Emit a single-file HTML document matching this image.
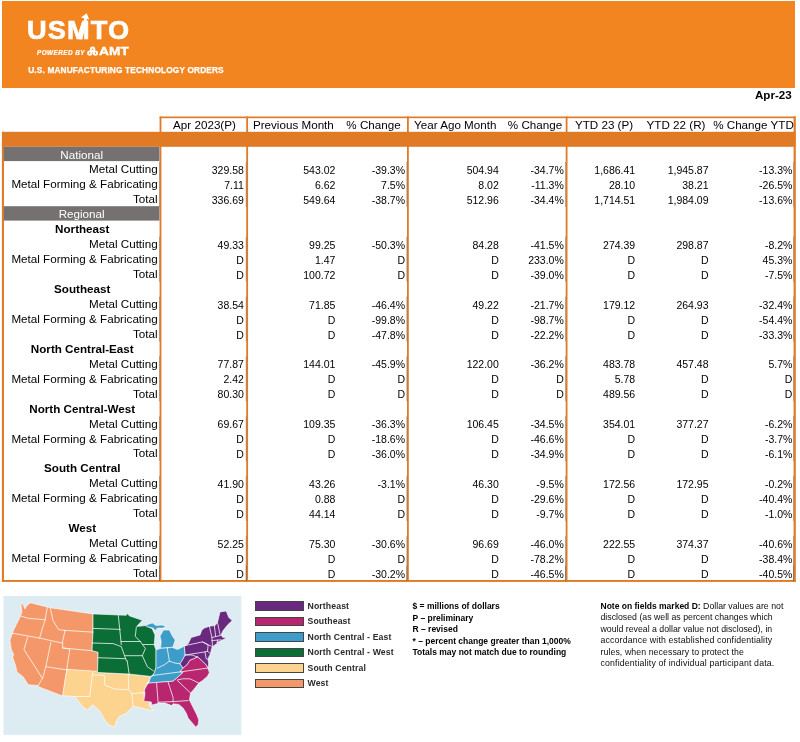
<!DOCTYPE html>
<html lang="en"><head><meta charset="utf-8"><title>USMTO Apr-23</title>
<style>
html,body{margin:0;padding:0;background:#fff}
body{width:800px;height:742px;position:relative;overflow:hidden;font-family:"Liberation Sans",sans-serif;color:#000}
.a{position:absolute}
.banner{left:2px;top:1px;width:793px;height:86.5px;background:#F28520}
.ln{background:#E17A24}
.band{left:2px;top:131.8px;width:793.5px;height:15px;background:#E17A24}
.gray{left:3.75px;width:155.8px;height:14.2px;color:#fff;text-align:center}/*#757171*/
.t{font-size:11.65px;line-height:14.9px;height:14.9px;white-space:nowrap}
.lab{left:3.75px;width:153.9px;text-align:right}
.reg{left:3.75px;width:157px;text-align:center;font-weight:bold;font-size:11.65px}
.hd{text-align:center;width:120px;top:117.6px}
.n{font-size:10.5px;text-align:right;width:80px}
.lg{color:#fff;font-weight:bold;white-space:nowrap}
.leg{font-size:8.7px;letter-spacing:0.12px;font-weight:bold;color:#2a2a2a;left:307.5px;line-height:10px;white-space:nowrap}
.sw{left:254.6px;width:49px;height:9.6px;border:0.7px solid #444;box-sizing:border-box}
.note{font-size:8.5px;font-weight:bold;line-height:11.55px;white-space:nowrap;color:#000}
.note2{font-size:8.75px;line-height:11.55px;white-space:nowrap;color:#0c0c0c}

</style></head><body>
<div class="a banner"></div>
<div class="a lg" style="left:27.2px;top:15.3px;font-size:25.2px;line-height:30px;letter-spacing:1px;-webkit-text-stroke:0.6px #fff;transform:scaleX(1.08);transform-origin:0 0">USMTO</div>
<div class="a lg" style="left:37px;top:47.5px;font-size:6.4px;line-height:9px;font-style:italic;letter-spacing:0.42px;-webkit-text-stroke:0.2px #fff">POWERED BY</div>
<div class="a lg" style="left:99.2px;top:44.3px;font-size:11.5px;line-height:14px;letter-spacing:0px;-webkit-text-stroke:0.35px #fff;transform:scaleX(1.2);transform-origin:0 0">AMT</div>
<div class="a lg" style="left:28.2px;top:64.7px;font-size:8.3px;line-height:10px;letter-spacing:0.15px;-webkit-text-stroke:0.25px #fff">U.S. MANUFACTURING TECHNOLOGY ORDERS</div>
<svg class="a" style="left:0;top:0" width="260" height="88" viewBox="0 0 260 88" fill="#fff">
<path d="M79.6 39.5 L84.3 18.4 L81 17.6 L86.6 13.3 L89.3 19.4 L86.9 18.9 L82.4 39.5 Z"/>
<g><circle cx="92.6" cy="49.3" r="2.7"/><circle cx="89.8" cy="53.1" r="2.7"/><circle cx="95.4" cy="53.1" r="2.7"/></g>
<g fill="#F28520"><circle cx="92.6" cy="49.3" r="0.8"/><circle cx="89.8" cy="53.1" r="0.8"/><circle cx="95.4" cy="53.1" r="0.8"/></g>
</svg>
<div class="a" style="right:8.3px;top:88.4px;font-size:11.6px;font-weight:bold;line-height:13px">Apr-23</div>
<svg class="a" style="left:0;top:0" width="800" height="742" viewBox="0 0 800 742">
<rect x="2" y="131.8" width="793.5" height="15" fill="#E17A24"/>
<rect x="159.6" y="116.5" width="635.9" height="1.7" fill="#E17A24"/>
<rect x="1.9" y="131.8" width="2.05" height="450.1" fill="#E17A24"/>
<rect x="1.9" y="580" width="793.9" height="1.9" fill="#E17A24"/>
<rect x="159.6" y="116.5" width="1.8" height="465.4" fill="#E17A24"/>
<rect x="246.25" y="116.5" width="1.8" height="465.4" fill="#E17A24"/>
<rect x="407" y="116.5" width="1.8" height="465.4" fill="#E17A24"/>
<rect x="565.7" y="116.5" width="1.8" height="465.4" fill="#E17A24"/>
<rect x="793.6" y="116.5" width="2.2" height="465.4" fill="#E17A24"/>
<rect x="3.75" y="146.80" width="155.7" height="14.30" fill="#757171"/>
<rect x="3.75" y="206.20" width="155.7" height="14.40" fill="#757171"/>
<rect x="159.1" y="161.95" width="0.6" height="44.86" fill="#3a2a1a" fill-opacity="0.5"/>
<rect x="245.8" y="161.95" width="0.6" height="44.86" fill="#3a2a1a" fill-opacity="0.5"/>
<rect x="406.5" y="161.95" width="0.6" height="44.86" fill="#3a2a1a" fill-opacity="0.5"/>
<rect x="565.2" y="161.95" width="0.6" height="44.86" fill="#3a2a1a" fill-opacity="0.5"/>
<rect x="793.1" y="161.95" width="0.6" height="44.86" fill="#3a2a1a" fill-opacity="0.5"/>
<rect x="159.1" y="236.72" width="0.6" height="44.86" fill="#3a2a1a" fill-opacity="0.5"/>
<rect x="245.8" y="236.72" width="0.6" height="44.86" fill="#3a2a1a" fill-opacity="0.5"/>
<rect x="406.5" y="236.72" width="0.6" height="44.86" fill="#3a2a1a" fill-opacity="0.5"/>
<rect x="565.2" y="236.72" width="0.6" height="44.86" fill="#3a2a1a" fill-opacity="0.5"/>
<rect x="793.1" y="236.72" width="0.6" height="44.86" fill="#3a2a1a" fill-opacity="0.5"/>
<rect x="159.1" y="296.54" width="0.6" height="44.86" fill="#3a2a1a" fill-opacity="0.5"/>
<rect x="245.8" y="296.54" width="0.6" height="44.86" fill="#3a2a1a" fill-opacity="0.5"/>
<rect x="406.5" y="296.54" width="0.6" height="44.86" fill="#3a2a1a" fill-opacity="0.5"/>
<rect x="565.2" y="296.54" width="0.6" height="44.86" fill="#3a2a1a" fill-opacity="0.5"/>
<rect x="793.1" y="296.54" width="0.6" height="44.86" fill="#3a2a1a" fill-opacity="0.5"/>
<rect x="159.1" y="356.36" width="0.6" height="44.86" fill="#3a2a1a" fill-opacity="0.5"/>
<rect x="245.8" y="356.36" width="0.6" height="44.86" fill="#3a2a1a" fill-opacity="0.5"/>
<rect x="406.5" y="356.36" width="0.6" height="44.86" fill="#3a2a1a" fill-opacity="0.5"/>
<rect x="565.2" y="356.36" width="0.6" height="44.86" fill="#3a2a1a" fill-opacity="0.5"/>
<rect x="793.1" y="356.36" width="0.6" height="44.86" fill="#3a2a1a" fill-opacity="0.5"/>
<rect x="159.1" y="416.17" width="0.6" height="44.86" fill="#3a2a1a" fill-opacity="0.5"/>
<rect x="245.8" y="416.17" width="0.6" height="44.86" fill="#3a2a1a" fill-opacity="0.5"/>
<rect x="406.5" y="416.17" width="0.6" height="44.86" fill="#3a2a1a" fill-opacity="0.5"/>
<rect x="565.2" y="416.17" width="0.6" height="44.86" fill="#3a2a1a" fill-opacity="0.5"/>
<rect x="793.1" y="416.17" width="0.6" height="44.86" fill="#3a2a1a" fill-opacity="0.5"/>
<rect x="159.1" y="475.99" width="0.6" height="44.86" fill="#3a2a1a" fill-opacity="0.5"/>
<rect x="245.8" y="475.99" width="0.6" height="44.86" fill="#3a2a1a" fill-opacity="0.5"/>
<rect x="406.5" y="475.99" width="0.6" height="44.86" fill="#3a2a1a" fill-opacity="0.5"/>
<rect x="565.2" y="475.99" width="0.6" height="44.86" fill="#3a2a1a" fill-opacity="0.5"/>
<rect x="793.1" y="475.99" width="0.6" height="44.86" fill="#3a2a1a" fill-opacity="0.5"/>
<rect x="159.1" y="535.80" width="0.6" height="44.86" fill="#3a2a1a" fill-opacity="0.5"/>
<rect x="245.8" y="535.80" width="0.6" height="44.86" fill="#3a2a1a" fill-opacity="0.5"/>
<rect x="406.5" y="535.80" width="0.6" height="44.86" fill="#3a2a1a" fill-opacity="0.5"/>
<rect x="565.2" y="535.80" width="0.6" height="44.86" fill="#3a2a1a" fill-opacity="0.5"/>
<rect x="793.1" y="535.80" width="0.6" height="44.86" fill="#3a2a1a" fill-opacity="0.5"/>
<rect x="159.1" y="565.71" width="0.6" height="14.95" fill="#3a2a1a" fill-opacity="0.5"/>
<rect x="245.8" y="565.71" width="0.6" height="14.95" fill="#3a2a1a" fill-opacity="0.5"/>
<rect x="406.5" y="565.71" width="0.6" height="14.95" fill="#3a2a1a" fill-opacity="0.5"/>
<rect x="565.2" y="565.71" width="0.6" height="14.95" fill="#3a2a1a" fill-opacity="0.5"/>
<rect x="793.1" y="565.71" width="0.6" height="14.95" fill="#3a2a1a" fill-opacity="0.5"/>
</svg>
<div class="a t hd" style="left:144.50px">Apr 2023(P)</div>
<div class="a t hd" style="left:233.40px">Previous Month</div>
<div class="a t hd" style="left:313.50px">% Change</div>
<div class="a t hd" style="left:395.25px">Year Ago Month</div>
<div class="a t hd" style="left:475.00px">% Change</div>
<div class="a t hd" style="left:544.00px">YTD 23 (P)</div>
<div class="a t hd" style="left:616.00px">YTD 22 (R)</div>
<div class="a t hd" style="left:693.50px">% Change YTD</div>
<div class="a gray t" style="top:148.10px">National</div>
<div class="a t lab" style="top:162.35px">Metal Cutting</div>
<div class="a t n" style="top:163.05px;left:163.90px">329.58</div>
<div class="a t n" style="top:163.05px;left:255.40px">543.02</div>
<div class="a t n" style="top:163.05px;left:325.00px">-39.3%</div>
<div class="a t n" style="top:163.05px;left:418.80px">504.94</div>
<div class="a t n" style="top:163.05px;left:483.80px">-34.7%</div>
<div class="a t n" style="top:163.05px;left:555.20px">1,686.41</div>
<div class="a t n" style="top:163.05px;left:628.50px">1,945.87</div>
<div class="a t n" style="top:163.05px;left:712.40px">-13.3%</div>
<div class="a t lab" style="top:177.31px">Metal Forming &amp; Fabricating</div>
<div class="a t n" style="top:178.01px;left:163.90px">7.11</div>
<div class="a t n" style="top:178.01px;left:255.40px">6.62</div>
<div class="a t n" style="top:178.01px;left:325.00px">7.5%</div>
<div class="a t n" style="top:178.01px;left:418.80px">8.02</div>
<div class="a t n" style="top:178.01px;left:483.80px">-11.3%</div>
<div class="a t n" style="top:178.01px;left:555.20px">28.10</div>
<div class="a t n" style="top:178.01px;left:628.50px">38.21</div>
<div class="a t n" style="top:178.01px;left:712.40px">-26.5%</div>
<div class="a t lab" style="top:192.26px">Total</div>
<div class="a t n" style="top:192.96px;left:163.90px">336.69</div>
<div class="a t n" style="top:192.96px;left:255.40px">549.64</div>
<div class="a t n" style="top:192.96px;left:325.00px">-38.7%</div>
<div class="a t n" style="top:192.96px;left:418.80px">512.96</div>
<div class="a t n" style="top:192.96px;left:483.80px">-34.4%</div>
<div class="a t n" style="top:192.96px;left:555.20px">1,714.51</div>
<div class="a t n" style="top:192.96px;left:628.50px">1,984.09</div>
<div class="a t n" style="top:192.96px;left:712.40px">-13.6%</div>
<div class="a gray t" style="top:207.10px">Regional</div>
<div class="a t reg" style="top:222.17px">Northeast</div>
<div class="a t lab" style="top:237.12px">Metal Cutting</div>
<div class="a t n" style="top:237.82px;left:163.90px">49.33</div>
<div class="a t n" style="top:237.82px;left:255.40px">99.25</div>
<div class="a t n" style="top:237.82px;left:325.00px">-50.3%</div>
<div class="a t n" style="top:237.82px;left:418.80px">84.28</div>
<div class="a t n" style="top:237.82px;left:483.80px">-41.5%</div>
<div class="a t n" style="top:237.82px;left:555.20px">274.39</div>
<div class="a t n" style="top:237.82px;left:628.50px">298.87</div>
<div class="a t n" style="top:237.82px;left:712.40px">-8.2%</div>
<div class="a t lab" style="top:252.08px">Metal Forming &amp; Fabricating</div>
<div class="a t n" style="top:252.78px;left:163.90px">D</div>
<div class="a t n" style="top:252.78px;left:255.40px">1.47</div>
<div class="a t n" style="top:252.78px;left:325.00px">D</div>
<div class="a t n" style="top:252.78px;left:418.80px">D</div>
<div class="a t n" style="top:252.78px;left:483.80px">233.0%</div>
<div class="a t n" style="top:252.78px;left:555.20px">D</div>
<div class="a t n" style="top:252.78px;left:628.50px">D</div>
<div class="a t n" style="top:252.78px;left:712.40px">45.3%</div>
<div class="a t lab" style="top:267.03px">Total</div>
<div class="a t n" style="top:267.73px;left:163.90px">D</div>
<div class="a t n" style="top:267.73px;left:255.40px">100.72</div>
<div class="a t n" style="top:267.73px;left:325.00px">D</div>
<div class="a t n" style="top:267.73px;left:418.80px">D</div>
<div class="a t n" style="top:267.73px;left:483.80px">-39.0%</div>
<div class="a t n" style="top:267.73px;left:555.20px">D</div>
<div class="a t n" style="top:267.73px;left:628.50px">D</div>
<div class="a t n" style="top:267.73px;left:712.40px">-7.5%</div>
<div class="a t reg" style="top:281.99px">Southeast</div>
<div class="a t lab" style="top:296.94px">Metal Cutting</div>
<div class="a t n" style="top:297.64px;left:163.90px">38.54</div>
<div class="a t n" style="top:297.64px;left:255.40px">71.85</div>
<div class="a t n" style="top:297.64px;left:325.00px">-46.4%</div>
<div class="a t n" style="top:297.64px;left:418.80px">49.22</div>
<div class="a t n" style="top:297.64px;left:483.80px">-21.7%</div>
<div class="a t n" style="top:297.64px;left:555.20px">179.12</div>
<div class="a t n" style="top:297.64px;left:628.50px">264.93</div>
<div class="a t n" style="top:297.64px;left:712.40px">-32.4%</div>
<div class="a t lab" style="top:311.89px">Metal Forming &amp; Fabricating</div>
<div class="a t n" style="top:312.59px;left:163.90px">D</div>
<div class="a t n" style="top:312.59px;left:255.40px">D</div>
<div class="a t n" style="top:312.59px;left:325.00px">-99.8%</div>
<div class="a t n" style="top:312.59px;left:418.80px">D</div>
<div class="a t n" style="top:312.59px;left:483.80px">-98.7%</div>
<div class="a t n" style="top:312.59px;left:555.20px">D</div>
<div class="a t n" style="top:312.59px;left:628.50px">D</div>
<div class="a t n" style="top:312.59px;left:712.40px">-54.4%</div>
<div class="a t lab" style="top:326.85px">Total</div>
<div class="a t n" style="top:327.55px;left:163.90px">D</div>
<div class="a t n" style="top:327.55px;left:255.40px">D</div>
<div class="a t n" style="top:327.55px;left:325.00px">-47.8%</div>
<div class="a t n" style="top:327.55px;left:418.80px">D</div>
<div class="a t n" style="top:327.55px;left:483.80px">-22.2%</div>
<div class="a t n" style="top:327.55px;left:555.20px">D</div>
<div class="a t n" style="top:327.55px;left:628.50px">D</div>
<div class="a t n" style="top:327.55px;left:712.40px">-33.3%</div>
<div class="a t reg" style="top:341.80px">North Central-East</div>
<div class="a t lab" style="top:356.76px">Metal Cutting</div>
<div class="a t n" style="top:357.46px;left:163.90px">77.87</div>
<div class="a t n" style="top:357.46px;left:255.40px">144.01</div>
<div class="a t n" style="top:357.46px;left:325.00px">-45.9%</div>
<div class="a t n" style="top:357.46px;left:418.80px">122.00</div>
<div class="a t n" style="top:357.46px;left:483.80px">-36.2%</div>
<div class="a t n" style="top:357.46px;left:555.20px">483.78</div>
<div class="a t n" style="top:357.46px;left:628.50px">457.48</div>
<div class="a t n" style="top:357.46px;left:712.40px">5.7%</div>
<div class="a t lab" style="top:371.71px">Metal Forming &amp; Fabricating</div>
<div class="a t n" style="top:372.41px;left:163.90px">2.42</div>
<div class="a t n" style="top:372.41px;left:255.40px">D</div>
<div class="a t n" style="top:372.41px;left:325.00px">D</div>
<div class="a t n" style="top:372.41px;left:418.80px">D</div>
<div class="a t n" style="top:372.41px;left:483.80px">D</div>
<div class="a t n" style="top:372.41px;left:555.20px">5.78</div>
<div class="a t n" style="top:372.41px;left:628.50px">D</div>
<div class="a t n" style="top:372.41px;left:712.40px">D</div>
<div class="a t lab" style="top:386.66px">Total</div>
<div class="a t n" style="top:387.36px;left:163.90px">80.30</div>
<div class="a t n" style="top:387.36px;left:255.40px">D</div>
<div class="a t n" style="top:387.36px;left:325.00px">D</div>
<div class="a t n" style="top:387.36px;left:418.80px">D</div>
<div class="a t n" style="top:387.36px;left:483.80px">D</div>
<div class="a t n" style="top:387.36px;left:555.20px">489.56</div>
<div class="a t n" style="top:387.36px;left:628.50px">D</div>
<div class="a t n" style="top:387.36px;left:712.40px">D</div>
<div class="a t reg" style="top:401.62px">North Central-West</div>
<div class="a t lab" style="top:416.57px">Metal Cutting</div>
<div class="a t n" style="top:417.27px;left:163.90px">69.67</div>
<div class="a t n" style="top:417.27px;left:255.40px">109.35</div>
<div class="a t n" style="top:417.27px;left:325.00px">-36.3%</div>
<div class="a t n" style="top:417.27px;left:418.80px">106.45</div>
<div class="a t n" style="top:417.27px;left:483.80px">-34.5%</div>
<div class="a t n" style="top:417.27px;left:555.20px">354.01</div>
<div class="a t n" style="top:417.27px;left:628.50px">377.27</div>
<div class="a t n" style="top:417.27px;left:712.40px">-6.2%</div>
<div class="a t lab" style="top:431.53px">Metal Forming &amp; Fabricating</div>
<div class="a t n" style="top:432.23px;left:163.90px">D</div>
<div class="a t n" style="top:432.23px;left:255.40px">D</div>
<div class="a t n" style="top:432.23px;left:325.00px">-18.6%</div>
<div class="a t n" style="top:432.23px;left:418.80px">D</div>
<div class="a t n" style="top:432.23px;left:483.80px">-46.6%</div>
<div class="a t n" style="top:432.23px;left:555.20px">D</div>
<div class="a t n" style="top:432.23px;left:628.50px">D</div>
<div class="a t n" style="top:432.23px;left:712.40px">-3.7%</div>
<div class="a t lab" style="top:446.48px">Total</div>
<div class="a t n" style="top:447.18px;left:163.90px">D</div>
<div class="a t n" style="top:447.18px;left:255.40px">D</div>
<div class="a t n" style="top:447.18px;left:325.00px">-36.0%</div>
<div class="a t n" style="top:447.18px;left:418.80px">D</div>
<div class="a t n" style="top:447.18px;left:483.80px">-34.9%</div>
<div class="a t n" style="top:447.18px;left:555.20px">D</div>
<div class="a t n" style="top:447.18px;left:628.50px">D</div>
<div class="a t n" style="top:447.18px;left:712.40px">-6.1%</div>
<div class="a t reg" style="top:461.43px">South Central</div>
<div class="a t lab" style="top:476.39px">Metal Cutting</div>
<div class="a t n" style="top:477.09px;left:163.90px">41.90</div>
<div class="a t n" style="top:477.09px;left:255.40px">43.26</div>
<div class="a t n" style="top:477.09px;left:325.00px">-3.1%</div>
<div class="a t n" style="top:477.09px;left:418.80px">46.30</div>
<div class="a t n" style="top:477.09px;left:483.80px">-9.5%</div>
<div class="a t n" style="top:477.09px;left:555.20px">172.56</div>
<div class="a t n" style="top:477.09px;left:628.50px">172.95</div>
<div class="a t n" style="top:477.09px;left:712.40px">-0.2%</div>
<div class="a t lab" style="top:491.34px">Metal Forming &amp; Fabricating</div>
<div class="a t n" style="top:492.04px;left:163.90px">D</div>
<div class="a t n" style="top:492.04px;left:255.40px">0.88</div>
<div class="a t n" style="top:492.04px;left:325.00px">D</div>
<div class="a t n" style="top:492.04px;left:418.80px">D</div>
<div class="a t n" style="top:492.04px;left:483.80px">-29.6%</div>
<div class="a t n" style="top:492.04px;left:555.20px">D</div>
<div class="a t n" style="top:492.04px;left:628.50px">D</div>
<div class="a t n" style="top:492.04px;left:712.40px">-40.4%</div>
<div class="a t lab" style="top:506.30px">Total</div>
<div class="a t n" style="top:507.00px;left:163.90px">D</div>
<div class="a t n" style="top:507.00px;left:255.40px">44.14</div>
<div class="a t n" style="top:507.00px;left:325.00px">D</div>
<div class="a t n" style="top:507.00px;left:418.80px">D</div>
<div class="a t n" style="top:507.00px;left:483.80px">-9.7%</div>
<div class="a t n" style="top:507.00px;left:555.20px">D</div>
<div class="a t n" style="top:507.00px;left:628.50px">D</div>
<div class="a t n" style="top:507.00px;left:712.40px">-1.0%</div>
<div class="a t reg" style="top:521.25px">West</div>
<div class="a t lab" style="top:536.20px">Metal Cutting</div>
<div class="a t n" style="top:536.90px;left:163.90px">52.25</div>
<div class="a t n" style="top:536.90px;left:255.40px">75.30</div>
<div class="a t n" style="top:536.90px;left:325.00px">-30.6%</div>
<div class="a t n" style="top:536.90px;left:418.80px">96.69</div>
<div class="a t n" style="top:536.90px;left:483.80px">-46.0%</div>
<div class="a t n" style="top:536.90px;left:555.20px">222.55</div>
<div class="a t n" style="top:536.90px;left:628.50px">374.37</div>
<div class="a t n" style="top:536.90px;left:712.40px">-40.6%</div>
<div class="a t lab" style="top:551.16px">Metal Forming &amp; Fabricating</div>
<div class="a t n" style="top:551.86px;left:163.90px">D</div>
<div class="a t n" style="top:551.86px;left:255.40px">D</div>
<div class="a t n" style="top:551.86px;left:325.00px">D</div>
<div class="a t n" style="top:551.86px;left:418.80px">D</div>
<div class="a t n" style="top:551.86px;left:483.80px">-78.2%</div>
<div class="a t n" style="top:551.86px;left:555.20px">D</div>
<div class="a t n" style="top:551.86px;left:628.50px">D</div>
<div class="a t n" style="top:551.86px;left:712.40px">-38.4%</div>
<div class="a t lab" style="top:566.11px">Total</div>
<div class="a t n" style="top:566.81px;left:163.90px">D</div>
<div class="a t n" style="top:566.81px;left:255.40px">D</div>
<div class="a t n" style="top:566.81px;left:325.00px">-30.2%</div>
<div class="a t n" style="top:566.81px;left:418.80px">D</div>
<div class="a t n" style="top:566.81px;left:483.80px">-46.5%</div>
<div class="a t n" style="top:566.81px;left:555.20px">D</div>
<div class="a t n" style="top:566.81px;left:628.50px">D</div>
<div class="a t n" style="top:566.81px;left:712.40px">-40.5%</div><svg class="a" style="left:0;top:590px" width="250" height="152" viewBox="0 590 250 152">
<rect x="3.5" y="596" width="237.8" height="138.8" fill="#DDEBF3"/>
<path d="M20.9 603.5 L23.3 604.6 L24.8 609.1 L27.2 605.2 L30.4 602.8 L47.4 607.0 L50.5 607.8 L93.0 613.9 L93.0 631.4 L92.0 650.7 L98.1 652.3 L97.5 671.9 L66.7 669.9 L62.7 696.1 L38.9 686.9 L38.2 685.5 L28.3 684.8 L23.3 677.0 L17.0 672.1 L15.6 665.7 L12.7 657.2 L13.7 654.4 L11.3 649.5 L9.9 640.3 L12.4 633.2 L13.4 630.4 L16.3 624.7 L19.8 617.6 L21.9 612.0 Z" fill="#F4986A" stroke="#fff" stroke-width="0.6" stroke-linejoin="round"/>
<path d="M67.2 669.2 L96.5 671.3 L98.0 672.5 L128.7 674.0 L149.0 676.2 L150.2 678.5 L147.5 682.2 L144.5 689.7 L143.7 692.7 L144.5 700.2 L149.7 701.7 L149.0 705.5 L153.5 710.7 L149.0 710.0 L140.0 707.7 L133.2 706.2 L126.5 713.0 L119.0 716.7 L116.0 722.0 L115.2 727.2 L109.2 725.0 L104.7 719.7 L100.2 711.5 L92.7 704.7 L87.5 710.0 L82.2 706.2 L76.2 698.0 L74.0 696.5 L62.7 695.7 L65.0 680.0 Z" fill="#FDD390" stroke="#fff" stroke-width="0.6" stroke-linejoin="round"/>
<path d="M93.0 613.9 L126.2 615.3 L127.2 613.6 L129.6 615.9 L142.3 620.3 L136.7 626.4 L145.6 625.6 L152.2 628.8 L155.0 635.0 L154.2 645.0 L156.0 650.0 L156.0 667.5 L154.5 672.5 L151.9 676.5 L149.0 676.2 L128.7 674.0 L98.0 672.5 L97.5 671.9 L98.1 652.3 L92.0 650.7 L93.0 631.4 Z" fill="#0B6E37" stroke="#fff" stroke-width="0.6" stroke-linejoin="round"/>
<path d="M156.0 650.0 L161.2 648.1 L172.5 647.5 L177.5 649.4 L184.4 646.2 L185.2 655.0 L182.5 660.0 L180.0 663.8 L183.1 668.1 L180.2 671.5 L183.1 672.5 L173.1 681.2 L148.8 683.1 L150.0 678.8 L151.9 675.6 L151.9 676.5 L154.5 672.5 L156.0 667.5 Z" fill="#3E9DC8" stroke="#fff" stroke-width="0.6" stroke-linejoin="round"/>
<path d="M145.6 625.6 L149.4 623.8 L152.5 623.1 L156.2 625.6 L161.2 625.0 L166.2 626.2 L163.1 628.1 L157.5 628.1 L155.0 630.6 L153.1 628.1 L147.5 626.9 Z" fill="#3E9DC8" stroke="#fff" stroke-width="0.6" stroke-linejoin="round"/>
<path d="M160.0 636.2 L163.5 630.0 L169.4 630.0 L172.5 636.2 L175.2 640.0 L174.0 643.8 L172.8 647.2 L160.6 648.1 L161.2 641.2 Z" fill="#3E9DC8" stroke="#fff" stroke-width="0.6" stroke-linejoin="round"/>
<path d="M220.0 611.9 L226.2 611.0 L228.8 617.5 L232.2 620.6 L227.5 625.0 L223.1 630.6 L221.2 634.4 L222.5 637.2 L226.5 638.1 L221.2 640.6 L216.2 643.1 L221.2 641.9 L215.0 644.8 L212.2 646.9 L211.2 650.0 L210.6 653.8 L208.8 656.9 L208.1 659.4 L208.6 663.8 L208.1 668.1 L206.2 665.0 L202.5 661.2 L197.5 656.9 L193.8 658.8 L190.0 660.2 L186.9 665.0 L183.1 668.1 L180.0 663.8 L182.5 660.0 L185.2 655.0 L184.4 646.2 L188.1 643.8 L190.0 640.0 L191.2 637.5 L200.0 635.0 L201.9 630.0 L204.4 628.1 L209.4 626.2 L215.0 625.6 L217.5 622.5 Z" fill="#69297F" stroke="#fff" stroke-width="0.6" stroke-linejoin="round"/>
<path d="M148.8 683.1 L173.1 681.2 L183.1 672.5 L180.2 671.5 L183.1 668.1 L186.9 665.0 L190.0 660.2 L193.8 658.8 L197.5 656.9 L202.5 661.2 L206.2 665.0 L207.8 668.1 L209.4 672.5 L207.5 676.2 L202.5 680.6 L198.8 683.1 L193.8 689.4 L190.6 693.1 L189.4 700.0 L192.5 706.2 L196.9 715.0 L198.8 720.0 L198.1 725.0 L195.6 726.9 L191.9 722.5 L188.1 718.1 L186.2 713.1 L183.1 708.1 L178.8 704.4 L173.1 703.8 L171.9 705.6 L165.0 703.1 L160.0 703.1 L158.8 702.5 L156.9 703.8 L151.9 705.0 L151.2 701.9 L143.8 701.2 L145.0 693.8 L144.4 690.0 L146.9 685.0 Z" fill="#B7266F" stroke="#fff" stroke-width="0.6" stroke-linejoin="round"/>
<g fill="none" stroke="#fff" stroke-width="0.75" stroke-linejoin="round" stroke-linecap="round">
<path d="M21.2 616.2 L28.3 618.3 L45.3 619.8"/>
<path d="M47.4 607.0 L45.0 620.5 L42.4 628.2 L39.6 638.1"/>
<path d="M12.4 633.2 L39.6 638.1 L62.2 643.1"/>
<path d="M27.6 637.4 L24.0 649.5 L42.4 678.5 L38.2 685.5"/>
<path d="M50.9 642.4 L46.0 665.7 L43.8 674.2 L42.4 678.5"/>
<path d="M50.2 607.7 L53.0 620.5 L58.7 629.7 L65.1 630.4 L62.2 643.1"/>
<path d="M62.7 643.0 L62.7 648.0 L69.8 649.0 L66.7 669.9"/>
<path d="M64.7 630.4 L93.0 632.1"/>
<path d="M62.7 648.0 L92.0 650.7"/>
<path d="M46.5 666.8 L66.7 669.9"/>
<path d="M92.7 672.5 L89.7 696.5 L74.0 696.5"/>
<path d="M92.7 674.7 L104.7 675.5 L104.7 685.2 L114.5 689.0 L128.0 689.7"/>
<path d="M128.3 674.7 L128.7 689.7 L131.7 693.5 L133.2 706.2"/>
<path d="M131.7 693.5 L144.2 692.7"/>
<path d="M93.0 628.4 L120.3 629.4"/>
<path d="M92.0 643.0 L113.2 643.6 L121.3 646.6 L126.4 660.8"/>
<path d="M98.1 657.7 L125.4 658.7"/>
<path d="M118.3 615.3 L121.3 644.6"/>
<path d="M121.1 641.5 L140.3 641.5"/>
<path d="M125.2 655.7 L142.3 655.7"/>
<path d="M136.3 627.4 L135.3 636.5 L140.3 641.5 L145.4 648.6 L142.3 655.7 L147.4 666.8 L153.4 670.8"/>
<path d="M143.3 644.5 L154.4 644.5"/>
<path d="M127.2 660.7 L129.2 674.4"/>
<path d="M167.2 647.9 L169.4 661.2 L163.8 665.0 L157.5 668.1"/>
<path d="M169.4 661.2 L175.0 663.1 L180.0 663.8"/>
<path d="M151.9 675.6 L180.2 671.9"/>
<path d="M185.2 645.6 L202.5 641.9 L208.1 645.0 L207.5 651.2 L210.6 653.8"/>
<path d="M185.2 655.0 L205.0 651.9 L207.5 651.2"/>
<path d="M202.5 641.9 L211.9 646.5"/>
<path d="M209.4 626.2 L211.9 637.5 L212.5 646.2"/>
<path d="M211.9 637.5 L222.5 635.0"/>
<path d="M211.9 640.6 L221.2 639.8"/>
<path d="M214.4 625.6 L215.6 636.2"/>
<path d="M217.5 622.5 L220.0 634.4"/>
<path d="M217.5 640.0 L217.8 643.1"/>
<path d="M205.0 651.9 L206.2 658.8 L208.5 659.4"/>
<path d="M185.2 655.0 L190.0 655.0 L192.5 655.0 L195.0 656.2 L197.5 656.9"/>
<path d="M180.2 671.9 L207.5 668.1"/>
<path d="M156.6 683.1 L158.1 702.5"/>
<path d="M168.1 682.2 L173.1 697.5 L173.1 701.9"/>
<path d="M158.8 702.2 L173.1 701.6 L188.1 700.6"/>
<path d="M177.5 680.6 L190.6 693.1"/>
<path d="M177.5 680.0 L182.5 678.8 L190.0 678.8 L198.8 683.1"/>
</g></svg><div class="a sw" style="top:601.30px;background:#69297F"></div>
<div class="a leg" style="top:600.90px">Northeast</div>
<div class="a sw" style="top:616.80px;background:#B7266F"></div>
<div class="a leg" style="top:616.40px">Southeast</div>
<div class="a sw" style="top:632.30px;background:#3E9DC8"></div>
<div class="a leg" style="top:631.90px">North Central - East</div>
<div class="a sw" style="top:647.80px;background:#0B6E37"></div>
<div class="a leg" style="top:647.40px">North Central - West</div>
<div class="a sw" style="top:663.30px;background:#FDD390"></div>
<div class="a leg" style="top:662.90px">South Central</div>
<div class="a sw" style="top:678.80px;background:#F4986A"></div>
<div class="a leg" style="top:678.40px">West</div>
<div class="a note" style="left:412.5px;top:601.1px">$ = millions of dollars<br>P – preliminary<br>R – revised<br>* – percent change greater than 1,000%<br>Totals may not match due to rounding</div>
<div class="a note2" style="left:600.5px;top:600.6px"><b style="color:#000;font-size:8.5px">Note on fields marked D:</b> Dollar values are not<br>disclosed (as well as percent changes which<br>would reveal a dollar value not disclosed), in<br><span style="letter-spacing:0.15px">accordance with established confidentiality</span><br><span style="letter-spacing:0.08px">rules, when necessary to protect the</span><br><span style="letter-spacing:0.16px">confidentiality of individual participant data.</span></div></body></html>
